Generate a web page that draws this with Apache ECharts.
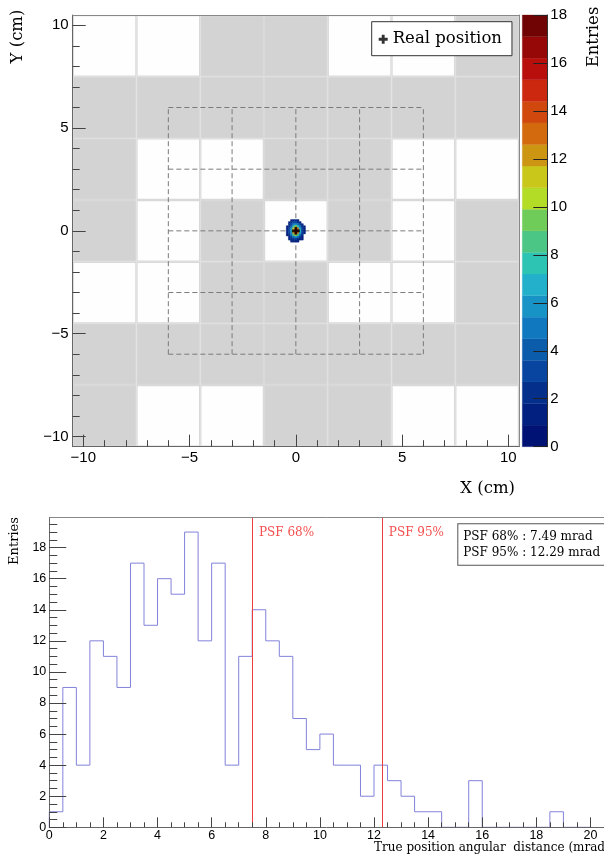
<!DOCTYPE html>
<html>
<head>
<meta charset="utf-8">
<script src="https://cdn.jsdelivr.net/npm/echarts@6/dist/echarts.min.js"></script>
<style>
html, body { margin: 0; padding: 0; background: #fff; }
#main { width: 604px; height: 857px; }
</style>
</head>
<body>
<div id="main"></div>
<script>
// ---- top panel : reconstructed image ----
var tileEdges = [-10.5, -7.5, -4.5, -1.5, 1.5, 4.5, 7.5, 10.5];
// 1 = white tile, 0 = grey tile, rows listed from top (y=10.5) to bottom
var tileMap = [
	[1, 1, 0, 0, 1, 1, 0],
	[0, 0, 0, 0, 0, 0, 0],
	[0, 1, 1, 0, 0, 1, 1],
	[0, 1, 0, 1, 0, 1, 0],
	[1, 1, 0, 0, 1, 1, 0],
	[0, 0, 0, 0, 0, 0, 0],
	[0, 1, 1, 0, 0, 1, 1]
];
var dashLines = [-6, -3, 0, 3, 6];

var blobX = [-0.4, -0.3, -0.2, -0.1, 0, 0.1, 0.2, 0.3, 0.4];
var blobY = [0.5, 0.4, 0.3, 0.2, 0.1, 0, -0.1, -0.2, -0.3, -0.4, -0.5];
var blobCounts = [
	[0, 0, 1, 1, 2, 1, 0, 0, 0],
	[0, 1, 2, 3, 3, 2, 1, 0, 0],
	[0, 1, 3, 5, 6, 5, 3, 1, 0],
	[1, 2, 4, 8, 10, 8, 5, 2, 1],
	[1, 3, 6, 11, 15, 13, 7, 3, 1],
	[1, 3, 7, 13, 18, 16, 8, 3, 1],
	[1, 3, 6, 12, 16, 13, 7, 3, 1],
	[1, 2, 5, 9, 11, 9, 5, 2, 0],
	[0, 1, 3, 5, 6, 5, 3, 1, 0],
	[0, 1, 2, 2, 3, 2, 1, 1, 0],
	[0, 0, 1, 1, 1, 1, 0, 0, 0]
];
var realPos = [[0, 0]];

var zMax = 18;
var palette = ['#001273', '#02207f', '#04308c', '#0845a0', '#0b5dac', '#0f78be', '#1893c6',
	'#22b0cb', '#2ec4b4', '#4cc684', '#70cc58', '#b2dc26', '#c9c71a', '#cc9612', '#d46a0e',
	'#d0480e', '#cc2810', '#b80e0c', '#960808', '#700404'];

var xyTicks = [-10, -5, 0, 5, 10];
var zTicks = [0, 2, 4, 6, 8, 10, 12, 14, 16, 18];

// ---- bottom panel : angular distance histogram ----
var binWidth = 0.5;
var counts = [1, 9, 4, 12, 11, 9, 17, 13, 16, 15,
	19, 12, 17, 4, 11, 14, 12, 11, 7, 5,
	6, 4, 4, 2, 4, 3, 2, 1, 1, 0,
	0, 3, 0, 0, 0, 0, 0, 1, 0, 0];
var psfNames = ['PSF 68%', 'PSF 95%'];
var psfValues = [7.49, 12.29];
var histXTicks = [0, 2, 4, 6, 8, 10, 12, 14, 16, 18, 20];
var histYTicks = [0, 2, 4, 6, 8, 10, 12, 14, 16, 18];

var myChart = echarts.init(document.getElementById('main'));

var serif = 'DejaVu Serif';
var sans = 'Liberation Sans';
var plusPath = 'path://M3.4,0H6.6V3.4H10V6.6H6.6V10H3.4V6.6H0V3.4H3.4Z';

// tiles
var tiles = [];
for (var r = 0; r < tileMap.length; r++) {
	for (var c = 0; c < tileMap[r].length; c++) {
		tiles.push([tileEdges[c], tileEdges[c + 1], tileEdges[6 - r], tileEdges[7 - r], tileMap[r][c]]);
	}
}
// dashed grid
var dashes = [];
for (var i = 0; i < dashLines.length; i++) {
	var v = dashLines[i];
	dashes.push([v, dashLines[0], v, dashLines[dashLines.length - 1]]);
	dashes.push([dashLines[0], v, dashLines[dashLines.length - 1], v]);
}
// blob
var blob = [];
for (var r = 0; r < blobY.length; r++) {
	for (var c = 0; c < blobX.length; c++) {
		if (blobCounts[r][c] > 0) blob.push([blobX[c], blobY[r], blobCounts[r][c]]);
	}
}
var step = zMax / palette.length;
var pieces = [];
var bands = [];
for (var i = 0; i < palette.length; i++) {
	pieces.push({ gt: i * step, lte: (i + 1) * step, color: palette[i] });
	bands.push([i * step, (i + 1) * step, i]);
}
var minorXY = [];
for (var k = -10; k <= 10; k++) minorXY.push(k);

// histogram outline
var histLine = [[0, 0]];
for (var i = 0; i < counts.length; i++) {
	histLine.push([i * binWidth, counts[i]]);
	histLine.push([(i + 1) * binWidth, counts[i]]);
}
histLine.push([counts.length * binWidth, 0]);
var minorHX = [], minorHY = [];
for (var k = 0; k <= 40; k++) minorHX.push(k * 0.5);
for (var k = 0; k <= 39; k++) minorHY.push(k * 0.5);

var minus = function (v) { return String(v).replace('-', '\u2212'); };

function majorAxis(grid, pos, min, max, ticks, len, fs, margin, fmt) {
	return {
		type: 'value', gridIndex: grid, position: pos, min: min, max: max, z: 10,
		splitLine: { show: false },
		axisLine: { show: true, onZero: false, lineStyle: { color: '#666', width: 1 } },
		axisTick: { show: true, inside: true, length: len, customValues: ticks, lineStyle: { color: '#444' } },
		axisLabel: { show: true, customValues: ticks, margin: margin, color: '#000', fontFamily: sans, fontSize: fs, formatter: fmt }
	};
}
function minorAxis(grid, pos, min, max, ticks, len) {
	return {
		type: 'value', gridIndex: grid, position: pos, min: min, max: max, z: 10,
		splitLine: { show: false },
		axisLine: { show: false, onZero: false },
		axisTick: { show: true, inside: true, length: len, customValues: ticks, lineStyle: { color: '#444' } },
		axisLabel: { show: false }
	};
}
function frameAxis(grid, pos, min, max) {
	return {
		type: 'value', gridIndex: grid, position: pos, min: min, max: max, z: 10,
		splitLine: { show: false },
		axisLine: { show: true, onZero: false, lineStyle: { color: '#888', width: 1 } },
		axisTick: { show: false }, axisLabel: { show: false }
	};
}

option = {
	backgroundColor: '#fff',
	animation: false,
	grid: [
		{ left: 72.7, top: 15, width: 446.3, height: 431.7 },
		{ left: 522.3, top: 15, width: 25, height: 431.7 },
		{ left: 49.3, top: 517.3, width: 557.6, height: 310 }
	],
	xAxis: [
		majorAxis(0, 'bottom', -10.5, 10.5, xyTicks, 12, 15, 4, minus),
		minorAxis(0, 'bottom', -10.5, 10.5, minorXY, 6.5),
		frameAxis(0, 'top', -10.5, 10.5),
		{ type: 'value', gridIndex: 1, min: 0, max: 1, show: false },
		majorAxis(2, 'bottom', 0, 20.5, histXTicks, 10, 12.5, 2),
		minorAxis(2, 'bottom', 0, 20.5, minorHX, 5),
		frameAxis(2, 'top', 0, 20.5)
	],
	yAxis: [
		majorAxis(0, 'left', -10.5, 10.5, xyTicks, 13, 15, 4, minus),
		minorAxis(0, 'left', -10.5, 10.5, minorXY, 7),
		frameAxis(0, 'right', -10.5, 10.5),
		{
			type: 'value', gridIndex: 1, position: 'right', min: 0, max: zMax, z: 10,
			splitLine: { show: false },
			axisLine: { show: true, onZero: false, lineStyle: { color: '#333' } },
			axisTick: { show: true, inside: true, length: 14, customValues: zTicks, lineStyle: { color: '#222' } },
			axisLabel: { customValues: zTicks, margin: 3, color: '#000', fontFamily: sans, fontSize: 15 }
		},
		majorAxis(2, 'left', 0, 19.95, histYTicks, 17, 12.5, 3),
		minorAxis(2, 'left', 0, 19.95, minorHY, 8)
	],
	visualMap: {
		type: 'piecewise', show: false, seriesIndex: 2, dimension: 2, pieces: pieces
	},
	legend: {
		data: [{ name: 'Real position', icon: plusPath }],
		left: 371.7, top: 21.7,
		padding: [9, 10, 8, 7],
		itemWidth: 9, itemHeight: 9,
		borderColor: '#333', borderWidth: 1, backgroundColor: '#fff',
		selectedMode: false,
		textStyle: { color: '#000', fontFamily: serif, fontSize: 16.5 }
	},
	series: [{
		type: 'custom', xAxisIndex: 0, yAxisIndex: 0, z: 1,
		data: tiles,
		renderItem: function (params, api) {
			var a = api.coord([api.value(0), api.value(3)]);
			var b = api.coord([api.value(1), api.value(2)]);
			return {
				type: 'group', children: [
					{ type: 'rect', shape: { x: a[0], y: a[1], width: b[0] - a[0], height: b[1] - a[1] }, style: { fill: '#d9d9d9' } },
					{ type: 'rect', shape: { x: a[0] + 1.2, y: a[1] + 1.2, width: b[0] - a[0] - 2.4, height: b[1] - a[1] - 2.4 },
						style: { fill: api.value(4) ? '#fefefe' : '#d3d3d3' } }
				]
			};
		}
	}, {
		type: 'custom', xAxisIndex: 0, yAxisIndex: 0, z: 2,
		data: dashes,
		renderItem: function (params, api) {
			var a = api.coord([api.value(0), api.value(1)]);
			var b = api.coord([api.value(2), api.value(3)]);
			return {
				type: 'line', shape: { x1: a[0], y1: a[1], x2: b[0], y2: b[1] },
				style: { stroke: '#7a7a7a', lineWidth: 1, lineDash: [5, 3] }
			};
		}
	}, {
		type: 'custom', xAxisIndex: 0, yAxisIndex: 0, z: 3,
		data: blob,
		renderItem: function (params, api) {
			var a = api.coord([api.value(0) - 0.05, api.value(1) + 0.05]);
			var b = api.coord([api.value(0) + 0.05, api.value(1) - 0.05]);
			var col = api.visual('color');
			return {
				type: 'rect', shape: { x: a[0], y: a[1], width: b[0] - a[0], height: b[1] - a[1] },
				style: { fill: col, stroke: col, lineWidth: 0.4 }
			};
		}
	}, {
		name: 'Real position', type: 'scatter', xAxisIndex: 0, yAxisIndex: 0, z: 5,
		symbol: plusPath, symbolSize: 8,
		itemStyle: { color: '#000' },
		data: realPos
	}, {
		type: 'custom', xAxisIndex: 3, yAxisIndex: 3, z: 2,
		data: bands,
		renderItem: function (params, api) {
			var a = api.coord([0, api.value(1)]);
			var b = api.coord([1, api.value(0)]);
			return {
				type: 'rect', shape: { x: a[0], y: a[1], width: b[0] - a[0], height: b[1] - a[1] },
				style: { fill: palette[api.value(2)], stroke: palette[api.value(2)], lineWidth: 0.3 }
			};
		}
	}, {
		type: 'line', xAxisIndex: 4, yAxisIndex: 4, z: 3,
		symbol: 'none',
		lineStyle: { color: '#8282da', width: 1 },
		data: histLine
	}, {
		type: 'scatter', xAxisIndex: 4, yAxisIndex: 4, z: 4,
		symbolSize: 0,
		data: psfValues.map(function (v, i) { return { name: psfNames[i], value: [v, 18.94] }; }),
		label: {
			show: true, position: 'right', distance: 7, formatter: '{b}',
			color: '#f22020', fontFamily: serif, fontSize: 12
		},
		markLine: {
			silent: true, symbol: ['none', 'none'],
			label: { show: false },
			lineStyle: { color: '#ee3b3b', width: 1, type: 'solid' },
			data: psfValues.map(function (v) { return { xAxis: v }; })
		}
	}],
	graphic: [
		{ type: 'text', x: 18, y: 36.5, rotation: Math.PI / 2, z: 20,
			style: { text: 'Y (cm)', font: '16.5px "DejaVu Serif"', fill: '#000', align: 'center', verticalAlign: 'middle', textAlign: 'center', textVerticalAlign: 'middle' } },
		{ type: 'text', x: 515, y: 489, z: 20,
			style: { text: 'X (cm)', font: '16.5px "DejaVu Serif"', fill: '#000', align: 'right', verticalAlign: 'middle', textAlign: 'right', textVerticalAlign: 'middle' } },
		{ type: 'text', x: 594, y: 37, rotation: Math.PI / 2, z: 20,
			style: { text: 'Entries', font: '16.5px "DejaVu Serif"', fill: '#000', align: 'center', verticalAlign: 'middle', textAlign: 'center', textVerticalAlign: 'middle' } },
		{ type: 'text', x: 15, y: 541, rotation: Math.PI / 2, z: 20,
			style: { text: 'Entries', font: '13px "DejaVu Serif"', fill: '#000', align: 'center', verticalAlign: 'middle', textAlign: 'center', textVerticalAlign: 'middle' } },
		{ type: 'text', x: 374, y: 848, z: 20,
			style: { text: 'True position angular  distance (mrad)', font: '12px "DejaVu Serif"', fill: '#000', align: 'left', verticalAlign: 'middle', textAlign: 'left', textVerticalAlign: 'middle' } },
		{ type: 'text', x: 458.3, y: 524.3, z: 20,
			style: {
				text: 'PSF 68% : 7.49 mrad\nPSF 95% : 12.29 mrad', font: '12px "DejaVu Serif"', fill: '#000',
				lineHeight: 16.7, backgroundColor: '#fff', borderColor: '#555', borderWidth: 1, padding: [4, 6, 3, 5]
			} }
	]
};
myChart.setOption(option);
</script>
</body>
</html>
